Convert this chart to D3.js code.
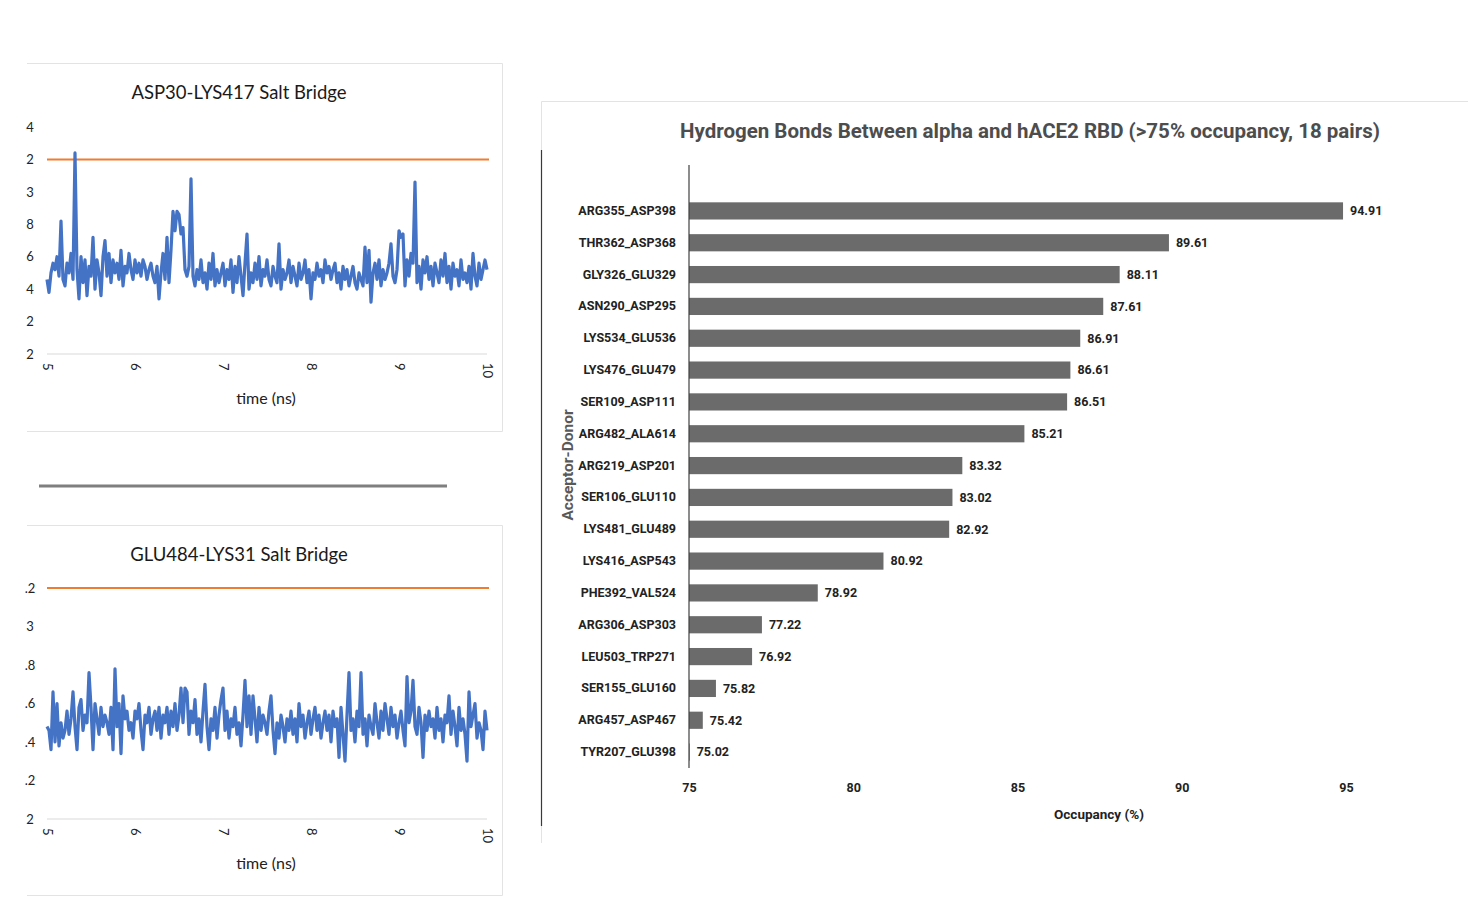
<!DOCTYPE html>
<html>
<head>
  <meta charset="utf-8">
  <title>Salt bridges and hydrogen bonds</title>
  <script src="https://cdn.jsdelivr.net/npm/d3@7/dist/d3.min.js"></script>
  <style>
    body { margin: 0; background: #fff; }
    text { font-family: Roboto, "Liberation Sans", sans-serif; }
  </style>
</head>
<body>
  <script>
    // ---- data ----
    const timeTicks = [5, 6, 7, 8, 9, 10]
    const saltTopYLabels = ["2", "2", "4", "6", "8", "3", "2", "4"]
    const saltBotYLabels = ["2", ".2", ".4", ".6", ".8", "3", ".2"]
    const saltTopCutoff = 6
    const saltBotCutoff = 6
    const saltTop = [
      2.3, 1.9, 2.5, 2.8, 2.6, 3.0, 2.4, 4.1, 2.3, 2.1,
      2.8, 2.5, 3.1, 2.3, 6.2, 2.6, 1.7, 3.0, 2.2, 2.9,
      1.8, 2.7, 2.4, 3.6, 2.0, 2.9, 2.5, 1.8, 3.0, 3.5,
      2.4, 3.1, 2.2, 2.9, 2.5, 2.8, 2.3, 3.2, 2.1, 2.7,
      2.5, 3.1, 2.6, 2.3, 2.9, 2.5, 2.8, 2.4, 2.9, 2.7,
      2.3, 2.6, 2.8, 2.4, 2.2, 2.7, 1.7, 2.5, 3.1, 2.3,
      3.6, 2.2, 3.2, 4.4, 3.8, 4.4, 4.3, 3.7, 3.9, 2.6,
      2.4, 2.7, 5.4, 2.4, 2.1, 2.6, 2.3, 2.9, 2.2, 2.5,
      2.0, 2.8, 2.3, 3.1, 2.1, 2.6, 2.2, 2.5, 2.8, 2.1,
      2.6, 2.3, 2.9, 1.9, 2.7, 2.2, 3.0, 2.4, 1.8, 2.8,
      3.7, 2.0, 2.5, 2.2, 2.8, 2.3, 3.0, 2.1, 2.6, 2.4,
      2.9, 2.3, 2.1, 2.7, 2.4, 2.2, 3.4, 2.0, 2.6, 2.3,
      2.5, 2.9, 2.2, 2.7, 2.4, 2.1, 2.8, 2.3, 2.5, 2.9,
      2.2, 2.6, 1.7, 2.5, 2.3, 2.8, 2.4, 2.6, 2.2, 2.9,
      2.5, 2.7, 2.3, 2.6, 2.8, 2.2, 2.5, 2.0, 2.7, 2.3,
      2.6, 2.1, 2.4, 2.7, 2.2, 2.0, 2.5, 2.3, 2.1, 3.3,
      2.2, 3.2, 1.6, 2.5, 2.8, 2.3, 2.9, 2.1, 2.6, 2.3,
      2.5, 2.8, 3.4, 2.4, 2.2, 2.6, 3.8, 3.6, 3.7, 2.1,
      2.9, 2.4, 3.1, 2.8, 5.3, 2.2, 2.7, 2.0, 2.9, 2.5,
      3.0, 2.3, 2.7, 2.1, 2.8, 2.5, 2.2, 2.9, 2.4, 3.1,
      2.2, 2.7, 2.0, 2.8, 2.4, 2.6, 2.1, 2.9, 2.3, 2.5,
      2.2, 2.7, 2.0, 3.1, 2.4, 2.1, 2.8, 2.3, 2.6, 2.9,
      2.6
    ]
    const saltBot = [
      2.4, 2.3, 1.8, 3.3, 2.0, 3.0, 1.9, 2.5, 2.1, 2.3,
      2.8, 2.2, 2.6, 3.3, 2.4, 1.8, 2.9, 3.1, 2.3, 2.7,
      2.5, 3.8, 2.9, 1.8, 3.0, 2.6, 2.2, 2.9, 2.4, 2.7,
      2.5, 2.2, 2.9, 1.8, 3.9, 2.4, 3.0, 1.7, 3.2, 2.6,
      2.8, 2.3, 2.5, 2.1, 2.8, 2.6, 3.0, 2.3, 1.8, 2.7,
      2.5, 2.9, 2.2, 2.6, 2.8, 2.3, 2.9, 2.1, 2.7, 2.5,
      2.9, 2.2, 2.8, 2.4, 3.0, 2.3, 2.7, 3.4, 2.5, 3.4,
      3.3, 2.2, 2.8, 2.5, 3.1, 2.2, 2.6, 2.0, 2.8, 3.5,
      2.4, 1.8, 2.6, 2.3, 2.9, 2.1, 2.7, 3.1, 3.4, 2.3,
      2.8, 2.1, 2.6, 2.4, 2.9, 2.2, 2.5, 1.9, 2.7, 3.6,
      2.4, 3.2, 2.2, 3.2, 2.6, 2.0, 2.9, 2.3, 2.7, 2.5,
      2.2, 2.8, 3.2, 2.3, 1.7, 2.5, 2.1, 2.7, 2.4, 2.0,
      2.6, 2.3, 2.8, 2.2, 2.6, 2.0, 3.0, 2.4, 2.7, 2.1,
      2.5, 2.8, 2.2, 2.6, 2.9, 2.3, 2.7, 2.1, 2.5, 2.8,
      2.3, 2.7, 2.0, 2.8, 2.4, 2.6, 1.6, 2.9, 2.2, 1.5,
      2.7, 3.8, 2.3, 2.6, 2.0, 2.8, 2.4, 3.8, 2.2, 2.6,
      1.9, 2.7, 2.4, 2.2, 3.0, 2.5, 2.1, 2.8, 2.3, 3.0,
      2.6, 2.2, 2.9, 2.4, 2.7, 2.1, 2.5, 2.8, 2.3, 1.9,
      3.7, 2.5, 2.8, 3.6, 2.4, 2.2, 2.9, 2.5, 1.6, 2.7,
      2.3, 2.8, 2.4, 2.6, 2.1, 2.9, 2.3, 2.6, 2.0, 2.7,
      2.5, 3.2, 2.2, 2.8, 2.4, 1.9, 2.9, 2.3, 2.6, 2.2,
      1.5, 3.3, 2.4, 2.7, 3.0, 2.1, 2.5, 2.3, 1.8, 2.8,
      2.3
    ]

    const pairs = ["ARG355_ASP398", "THR362_ASP368", "GLY326_GLU329", "ASN290_ASP295",
      "LYS534_GLU536", "LYS476_GLU479", "SER109_ASP111", "ARG482_ALA614",
      "ARG219_ASP201", "SER106_GLU110", "LYS481_GLU489", "LYS416_ASP543",
      "PHE392_VAL524", "ARG306_ASP303", "LEU503_TRP271", "SER155_GLU160",
      "ARG457_ASP467", "TYR207_GLU398"]
    const occupancy = [94.91, 89.61, 88.11, 87.61, 86.91, 86.61, 86.51, 85.21,
      83.32, 83.02, 82.92, 80.92, 78.92, 77.22, 76.92, 75.82, 75.42, 75.02]
    const occTicks = [75, 80, 85, 90, 95]

    const width = 1468, height = 901
    const svg = d3.select('body').append('svg')
      .attr('width', width)
      .attr('height', height)

    // panel frames
    const frame = svg.append('g').attr('fill', 'none').attr('stroke', '#e3e3e3')
    frame.append('path').attr('d', 'M27,63.5H502.5V431.5H27')
    frame.append('path').attr('d', 'M27,525.5H502.5V895.5H27')
    frame.append('path').attr('d', 'M541.5,843V101.5H1468')
    svg.append('line')
      .attr('x1', 541.5).attr('x2', 541.5).attr('y1', 150).attr('y2', 826)
      .attr('stroke', '#3a3a3a').attr('stroke-width', 1.2)
    svg.append('line')
      .attr('x1', 39).attr('x2', 447).attr('y1', 486).attr('y2', 486)
      .attr('stroke', '#7f7f7f').attr('stroke-width', 3)

    // ---- salt bridge line charts ----
    function saltChart(cfg) {
      const g = svg.append('g')
      const x = d3.scaleLinear().domain([5, 10]).range([47, 487])
      const y = d3.scaleLinear().domain([0, cfg.labels.length - 1]).range([cfg.base, cfg.top])
      const n = cfg.values.length

      g.append('text')
        .attr('x', 239).attr('y', cfg.titleY)
        .attr('text-anchor', 'middle')
        .attr('font-size', 18.5)
        .attr('fill', '#1a1a1a')
        .style('font-family', 'Lato, "Open Sans", sans-serif')
        .text(cfg.title)

      // baseline gridline
      g.append('line')
        .attr('x1', x(5)).attr('x2', x(10))
        .attr('y1', y(0)).attr('y2', y(0))
        .attr('stroke', '#d9d9d9')

      const yAxis = d3.axisLeft(y)
        .tickValues(d3.range(cfg.labels.length))
        .tickFormat(i => cfg.labels[i])
        .tickSize(0)
      g.append('g')
        .attr('transform', 'translate(36,0)')
        .call(yAxis)
        .call(s => s.select('.domain').remove())
        .selectAll('text')
        .attr('font-size', 13)
        .attr('fill', '#222')
        .attr('text-anchor', 'middle')
        .attr('x', -6)
        .style('font-family', 'Lato, "Open Sans", sans-serif')

      const xAxis = d3.axisBottom(x).tickValues(timeTicks).tickSize(0).tickFormat(d3.format('d'))
      g.append('g')
        .attr('transform', `translate(0,${cfg.base + 9})`)
        .call(xAxis)
        .call(s => s.select('.domain').remove())
        .selectAll('text')
        .attr('font-size', 13)
        .attr('fill', '#222')
        .attr('y', 0)
        .attr('transform', 'rotate(90)')
        .attr('text-anchor', 'start')
        .attr('dy', '0.35em')
        .style('font-family', 'Lato, "Open Sans", sans-serif')

      g.append('text')
        .attr('x', 266).attr('y', cfg.base + 50)
        .attr('text-anchor', 'middle')
        .attr('font-size', 16)
        .attr('fill', '#222')
        .style('font-family', 'Lato, "Open Sans", sans-serif')
        .text('time (ns)')

      g.append('line')
        .attr('x1', x(5)).attr('x2', x(10) + 2)
        .attr('y1', y(cfg.cutoff)).attr('y2', y(cfg.cutoff))
        .attr('stroke', '#ed7d31').attr('stroke-width', 2)

      const line = d3.line()
        .x((d, i) => x(5 + 5 * i / (n - 1)))
        .y(d => y(d))
      g.append('path')
        .datum(cfg.values)
        .attr('d', line)
        .attr('fill', 'none')
        .attr('stroke', '#4472c4')
        .attr('stroke-width', 3.2)
        .attr('stroke-linejoin', 'round')
    }

    saltChart({ title: 'ASP30-LYS417 Salt Bridge', titleY: 99, base: 354, top: 127,
      labels: saltTopYLabels, values: saltTop, cutoff: saltTopCutoff })
    saltChart({ title: 'GLU484-LYS31 Salt Bridge', titleY: 561, base: 819, top: 588,
      labels: saltBotYLabels, values: saltBot, cutoff: saltBotCutoff })

    // ---- hydrogen bond bar chart ----
    const hb = svg.append('g')
    const xScale = d3.scaleLinear().domain([75, 95]).range([689, 1346])
    const yScale = d3.scaleBand().domain(pairs).range([195, 768])
      .paddingInner(0.46).paddingOuter(0.23)

    hb.append('text')
      .attr('x', 1030).attr('y', 138)
      .attr('text-anchor', 'middle')
      .attr('font-size', 20.5)
      .attr('font-weight', 'bold')
      .attr('fill', '#4d4d4d')
      .text('Hydrogen Bonds Between alpha and hACE2 RBD (>75% occupancy, 18 pairs)')

    hb.selectAll('rect')
      .data(occupancy)
      .enter()
      .append('rect')
      .attr('x', xScale(75))
      .attr('y', (d, i) => yScale(pairs[i]))
      .attr('width', d => xScale(d) - xScale(75))
      .attr('height', yScale.bandwidth())
      .attr('fill', '#6b6b6b')

    hb.selectAll('text.val')
      .data(occupancy)
      .enter()
      .append('text')
      .attr('class', 'val')
      .attr('x', d => xScale(d) + 7)
      .attr('y', (d, i) => yScale(pairs[i]) + yScale.bandwidth() / 2)
      .attr('dy', '0.35em')
      .attr('font-size', 12.5)
      .attr('font-weight', 'bold')
      .attr('fill', '#222')
      .text(d => d.toFixed(2))

    const catAxis = d3.axisLeft(yScale).tickSize(0).tickPadding(13)
    hb.append('g')
      .attr('transform', `translate(${xScale(75)},0)`)
      .call(catAxis)
      .call(s => s.select('.domain').remove())
      .selectAll('text')
      .attr('font-size', 12.5)
      .attr('font-weight', 'bold')
      .attr('fill', '#222')
      .style('font-family', 'Roboto, sans-serif')

    hb.append('line')
      .attr('x1', xScale(75)).attr('x2', xScale(75))
      .attr('y1', 165).attr('y2', 768)
      .attr('stroke', '#404040').attr('stroke-width', 1.2)

    const occAxis = d3.axisBottom(xScale).tickValues(occTicks).tickSize(0).tickPadding(15)
    hb.append('g')
      .attr('transform', 'translate(0,768)')
      .call(occAxis)
      .call(s => s.select('.domain').remove())
      .selectAll('text')
      .attr('font-size', 12.5)
      .attr('font-weight', 'bold')
      .attr('fill', '#222')
      .style('font-family', 'Roboto, sans-serif')

    hb.append('text')
      .attr('x', 1099).attr('y', 819)
      .attr('text-anchor', 'middle')
      .attr('font-size', 13.5)
      .attr('font-weight', 'bold')
      .attr('fill', '#222')
      .text('Occupancy (%)')

    hb.append('text')
      .attr('transform', 'translate(573,465) rotate(-90)')
      .attr('text-anchor', 'middle')
      .attr('font-size', 15.5)
      .attr('font-weight', 'bold')
      .attr('fill', '#595959')
      .text('Acceptor-Donor')
  </script>
</body>
</html>
